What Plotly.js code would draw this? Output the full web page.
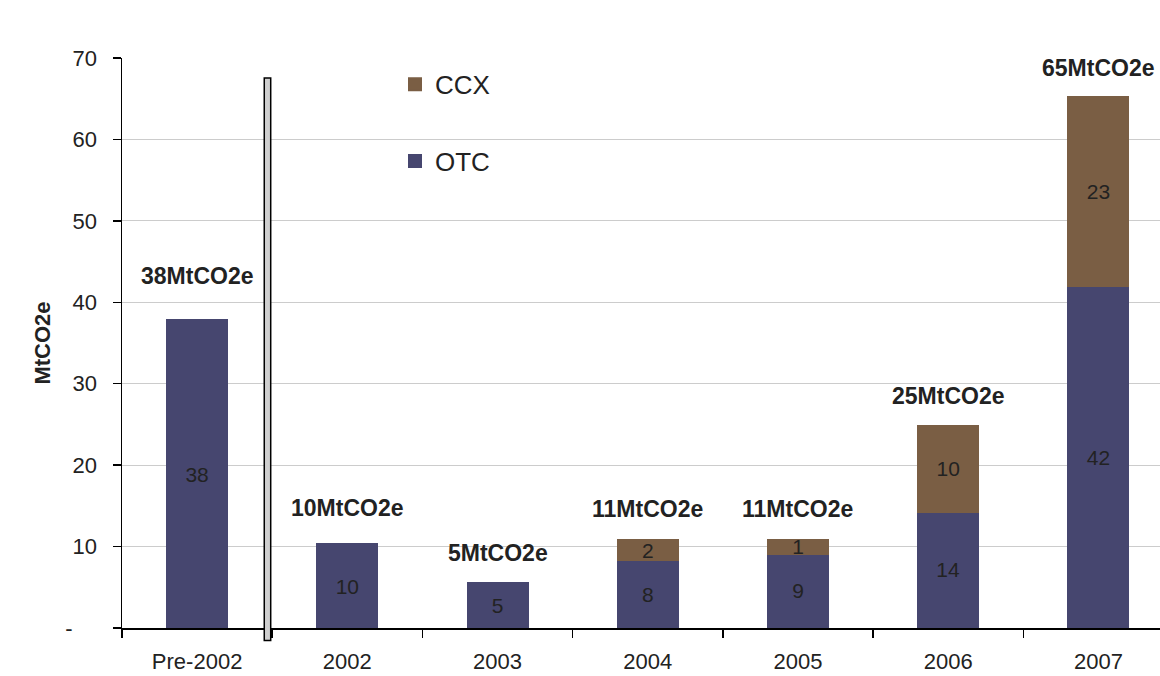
<!DOCTYPE html>
<html>
<head>
<meta charset="utf-8">
<script src="https://cdn.plot.ly/plotly-3.0.1.min.js"></script>
<style>html,body{margin:0;padding:0;background:#fff;}#chart{width:1160px;height:676px;}</style>
</head>
<body>
<div id="chart"></div>
<script>
// ---- data ----
const categories = ["Pre-2002", "2002", "2003", "2004", "2005", "2006", "2007"];
const otcValues = [37.8, 10.3, 5.5, 8.3, 9.1, 14.3, 42.0];
const ccxValues = [null, null, null, 2.5, 1.7, 10.5, 23.2];
const otcLabels = ["38", "10", "5", "8", "9", "14", "42"];
const ccxLabels = ["", "", "", "2", "1", "10", "23"];
const totalLabels = ["38MtCO2e", "10MtCO2e", "5MtCO2e", "11MtCO2e", "11MtCO2e", "25MtCO2e", "65MtCO2e"];
const yTickVals = [0, 10, 20, 30, 40, 50, 60, 70];
const yTickText = ["-\u00a0\u00a0\u00a0\u00a0", "10", "20", "30", "40", "50", "60", "70"];

// ---- style ----
const FONT = "Liberation Sans, Arial, sans-serif";
const OTC_COLOR = "#46466f";
const CCX_COLOR = "#7a5e44";
const totalShift = [44, 36, 30, 31, 31, 30, 29];

const traces = [
  {
    type: "bar", name: "OTC", x: categories, y: otcValues,
    text: otcLabels, textposition: "inside", insidetextanchor: "middle",
    textangle: 0, constraintext: "none",
    textfont: {family: FONT, size: 21, color: "#222"},
    marker: {color: OTC_COLOR, line: {color: OTC_COLOR, width: 2}}, width: 0.40,
    legendgroup: "otc", legendrank: 2,
    hoverinfo: "skip"
  },
  {
    type: "bar", name: "CCX", x: categories, y: ccxValues,
    text: ccxLabels, textposition: "inside", insidetextanchor: "middle",
    textangle: 0, constraintext: "none",
    textfont: {family: FONT, size: 21, color: "#222"},
    marker: {color: CCX_COLOR, line: {color: CCX_COLOR, width: 2}}, width: 0.40,
    legendgroup: "ccx", legendrank: 1,
    hoverinfo: "skip"
  }
];

const annotations = categories.map((c, i) => ({
  x: i, y: otcValues[i] + (ccxValues[i] || 0), xref: "x", yref: "y",
  text: "<b>" + totalLabels[i] + "</b>", showarrow: false,
  yshift: totalShift[i], font: {family: FONT, size: 23, color: "#222"}
}));

const layout = {
  width: 1160, height: 676,
  margin: {l: 122, r: 0, t: 58, b: 48},
  paper_bgcolor: "#ffffff", plot_bgcolor: "#ffffff",
  barmode: "stack",
  font: {family: FONT, color: "#222"},
  showlegend: true,
  legend: {
    x: 0.263, xanchor: "left", y: 0.995, yanchor: "top",
    traceorder: "grouped", tracegroupgap: 40,
    bgcolor: "rgba(0,0,0,0)", font: {family: FONT, size: 26, color: "#222"}
  },
  xaxis: {
    type: "category", range: [-0.5, 6.41],
    showline: true, linecolor: "#000", linewidth: 1.5,
    ticks: "outside", tickson: "boundaries", ticklen: 8, tickcolor: "#000", tickwidth: 1.5,
    ticklabelstandoff: 13,
    showgrid: false, tickfont: {family: FONT, size: 22, color: "#222"},
    fixedrange: true
  },
  yaxis: {
    range: [0, 70], tickvals: yTickVals, ticktext: yTickText,
    showline: true, linecolor: "#000", linewidth: 1.5,
    ticks: "outside", ticklen: 8, tickcolor: "#000", tickwidth: 1.5,
    ticklabelstandoff: 11,
    showgrid: true, gridcolor: "#cccccc", gridwidth: 1, zeroline: false,
    tickfont: {family: FONT, size: 22, color: "#222"},
    title: {text: "<b>MtCO2e</b>", font: {family: FONT, size: 22, color: "#222"}, standoff: 8},
    fixedrange: true
  },
  shapes: [
    {type: "rect", xref: "paper", yref: "paper", x0: 0.234, x1: 0.395, y0: 0.768, y1: 1.04,
     fillcolor: "#ffffff", line: {width: 0}, layer: "between"},
    {type: "rect", xref: "x", yref: "paper", x0: 0.447, x1: 0.490, y0: -0.022, y1: 0.965,
     fillcolor: "#cfcfcf", line: {color: "#000", width: 1.5}}
  ],
  annotations: annotations
};

Plotly.newPlot("chart", traces, layout, {displayModeBar: false, staticPlot: true});
</script>
</body>
</html>
